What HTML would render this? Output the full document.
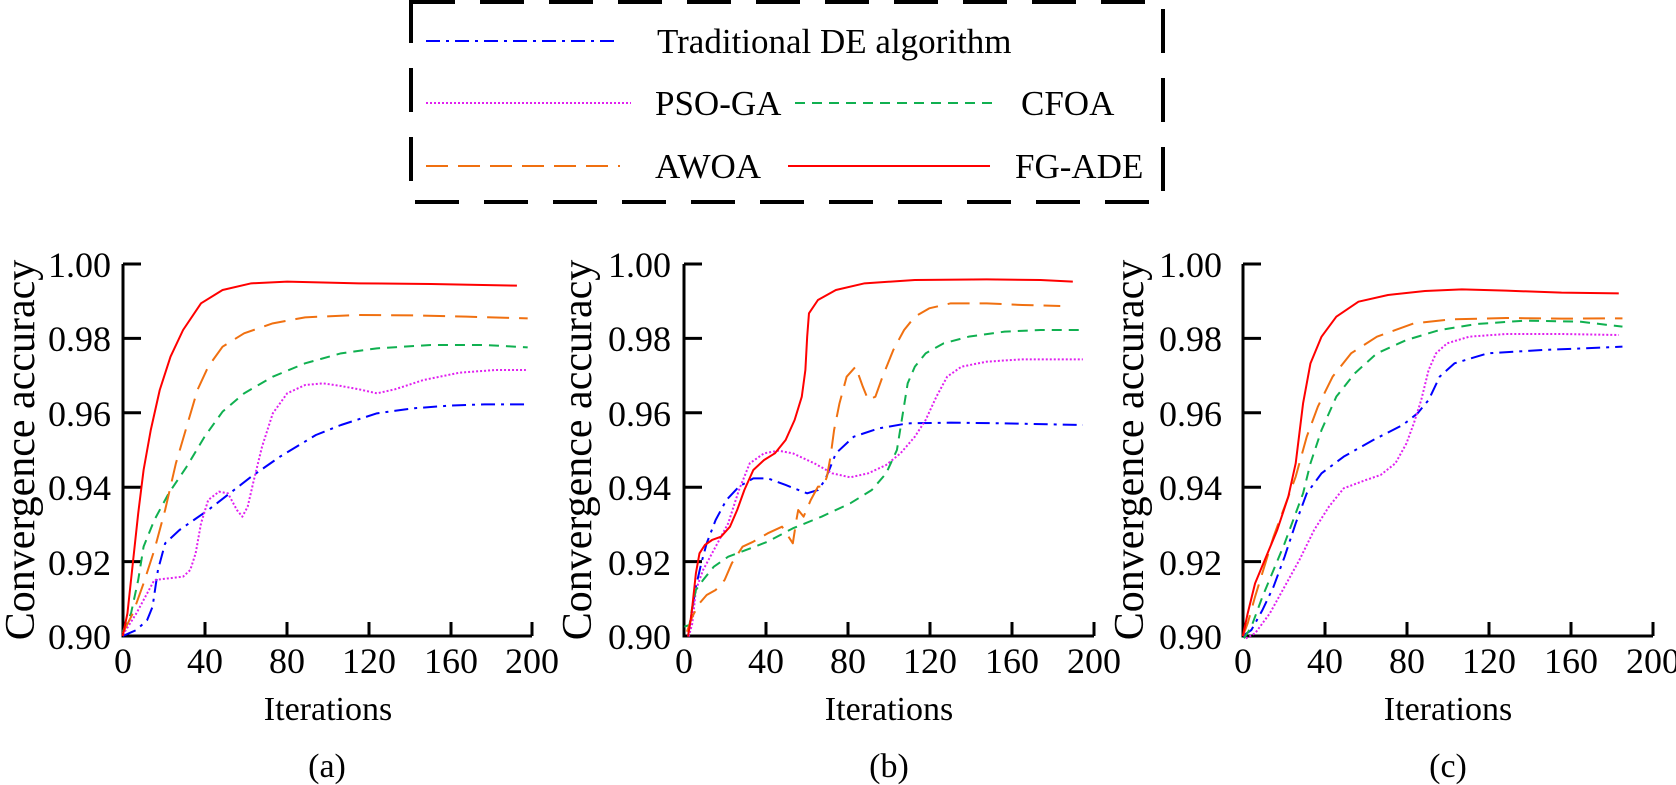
<!DOCTYPE html>
<html><head><meta charset="utf-8"><style>
html,body{margin:0;padding:0;background:#fff;}
svg{display:block;}
svg text{font-family:"Liberation Serif","Times New Roman","DejaVu Serif",serif;fill:#000;}
</style></head><body>
<svg width="1676" height="785" viewBox="0 0 1676 785" xmlns="http://www.w3.org/2000/svg">
<defs>
<style>
.s{fill:none;stroke-width:2;vector-effect:non-scaling-stroke;stroke-linejoin:round}
.bl{stroke:#0000ff;stroke-dasharray:14,6,3,6}
.mg{stroke:#e020f0;stroke-dasharray:2,2}
.gr{stroke:#10b050;stroke-dasharray:10,7}
.or{stroke:#f07010;stroke-dasharray:22,10}
.rd{stroke:#ff0000}
.ax{stroke:#000;stroke-width:3;fill:none}
</style>
</defs>
<rect x="411" y="2" width="752" height="200" fill="none" stroke="#000" stroke-width="4" stroke-dasharray="44,25"/>
<g font-size="35" font-family="Liberation Serif, Times New Roman, DejaVu Serif, serif">
<line x1="426" y1="41" x2="620" y2="41" class="s bl"/>
<text x="657" y="53">Traditional DE algorithm</text>
<line x1="426" y1="103" x2="631" y2="103" class="s mg"/>
<text x="655" y="115">PSO-GA</text>
<line x1="795" y1="103" x2="996" y2="103" class="s gr"/>
<text x="1021" y="115">CFOA</text>
<line x1="426" y1="166" x2="620" y2="166" class="s or"/>
<text x="655" y="178">AWOA</text>
<line x1="788" y1="166" x2="990" y2="166" class="s rd"/>
<text x="1015" y="178">FG-ADE</text>
</g>

<g class="ax">
<path d="M123,264 V636 H532"/>
<path d="M123,264 h18 M123,338.4 h18 M123,412.8 h18 M123,487.2 h18 M123,561.6 h18"/>
<path d="M205,636 v-14 M287,636 v-14 M369,636 v-14 M451,636 v-14 M532,636 v-14"/>
<path d="M684,264 V636 H1094"/>
<path d="M684,264 h18 M684,338.4 h18 M684,412.8 h18 M684,487.2 h18 M684,561.6 h18"/>
<path d="M766,636 v-14 M848,636 v-14 M930,636 v-14 M1012,636 v-14 M1094,636 v-14"/>
<path d="M1243,264 V636 H1653"/>
<path d="M1243,264 h18 M1243,338.4 h18 M1243,412.8 h18 M1243,487.2 h18 M1243,561.6 h18"/>
<path d="M1325,636 v-14 M1407,636 v-14 M1489,636 v-14 M1571,636 v-14 M1653,636 v-14"/>
</g>

<g font-size="34" font-family="Liberation Serif, Times New Roman, DejaVu Serif, serif">
<g text-anchor="end" font-size="36">
<text x="111" y="277">1.00</text><text x="111" y="351">0.98</text><text x="111" y="426">0.96</text><text x="111" y="500">0.94</text><text x="111" y="575">0.92</text><text x="111" y="649">0.90</text>
<text x="671" y="277">1.00</text><text x="671" y="351">0.98</text><text x="671" y="426">0.96</text><text x="671" y="500">0.94</text><text x="671" y="575">0.92</text><text x="671" y="649">0.90</text>
<text x="1222" y="277">1.00</text><text x="1222" y="351">0.98</text><text x="1222" y="426">0.96</text><text x="1222" y="500">0.94</text><text x="1222" y="575">0.92</text><text x="1222" y="649">0.90</text>
</g>
<g text-anchor="middle">
<g font-size="36">
<text x="123" y="673">0</text><text x="205" y="673">40</text><text x="287" y="673">80</text><text x="369" y="673">120</text><text x="451" y="673">160</text><text x="532" y="673">200</text>
<text x="684" y="673">0</text><text x="766" y="673">40</text><text x="848" y="673">80</text><text x="930" y="673">120</text><text x="1012" y="673">160</text><text x="1094" y="673">200</text>
<text x="1243" y="673">0</text><text x="1325" y="673">40</text><text x="1407" y="673">80</text><text x="1489" y="673">120</text><text x="1571" y="673">160</text><text x="1653" y="673">200</text>
</g>
<text x="328" y="720">Iterations</text><text x="889" y="720">Iterations</text><text x="1448" y="720">Iterations</text>
<text x="327" y="777">(a)</text><text x="889" y="777">(b)</text><text x="1448" y="777">(c)</text>
<g font-size="42">
<text transform="translate(34,450) rotate(-90)">Convergence accuracy</text>
<text transform="translate(591,450) rotate(-90)">Convergence accuracy</text>
<text transform="translate(1143,450) rotate(-90)">Convergence accuracy</text>
</g>
</g>
</g>

<g transform="translate(0,230) scale(0.35897,0.33333)">
<polyline class="s bl" points="342,1218 380,1200 410,1170 425,1130 440,1020 460,940 500,900 540,870 580,840 640,790 700,740 780,680 880,615 950,585 1050,550 1150,535 1250,527 1350,523 1475,523"/>
<polyline class="s mg" points="342,1215 380,1150 410,1090 430,1050 470,1045 510,1040 530,1020 545,970 560,880 580,810 610,785 635,790 660,840 675,860 690,830 705,760 730,650 760,550 800,490 850,465 900,460 950,468 1000,478 1050,490 1100,478 1180,450 1280,428 1380,420 1465,420"/>
<polyline class="s gr" points="342,1205 365,1150 385,1050 400,950 430,870 470,790 520,710 570,620 620,545 680,490 760,440 850,400 950,370 1050,355 1200,345 1350,345 1470,352"/>
<polyline class="s or" points="342,1210 370,1150 400,1060 430,960 460,840 490,700 520,590 550,480 580,410 620,350 680,310 760,280 850,262 1000,255 1150,256 1300,260 1470,265"/>
<polyline class="s rd" points="342,1218 355,1150 370,1000 385,850 400,720 420,600 445,480 475,380 510,300 560,220 620,180 700,160 800,155 1000,160 1200,162 1440,167"/>
</g>
<g transform="translate(520,230) scale(0.35897,0.33333)">
<polyline class="s bl" points="468,1220 478,1150 490,1070 505,1000 520,940 545,870 575,810 610,770 650,745 690,745 740,765 800,790 830,780 850,750 880,670 930,620 1000,595 1080,580 1200,578 1350,580 1568,585"/>
<polyline class="s mg" points="470,1220 480,1180 490,1080 510,1020 540,960 580,880 610,780 640,700 680,670 720,662 760,670 820,700 870,730 920,742 970,730 1020,705 1060,670 1100,620 1130,570 1160,500 1190,440 1230,410 1300,395 1400,388 1568,388"/>
<polyline class="s gr" points="458,1190 472,1185 480,1130 490,1080 510,1050 540,1010 580,980 630,960 690,935 760,895 840,860 920,820 980,780 1020,730 1050,660 1065,560 1080,460 1100,410 1130,370 1180,340 1250,320 1350,305 1450,300 1568,300"/>
<polyline class="s or" points="465,1205 480,1160 500,1120 520,1095 545,1080 570,1050 590,1000 620,950 650,935 690,910 730,890 760,940 770,870 775,840 790,860 810,810 830,770 845,770 855,740 865,680 875,600 890,520 910,440 935,410 955,470 970,510 990,500 1010,440 1040,360 1070,300 1100,260 1140,235 1200,220 1300,220 1400,225 1505,228"/>
<polyline class="s rd" points="468,1220 478,1150 490,1030 500,970 515,945 535,930 560,920 585,890 605,840 625,780 650,720 680,690 710,670 740,630 765,570 785,500 795,420 800,320 805,250 830,210 880,180 960,160 1100,150 1300,148 1450,150 1540,155"/>
</g>
<g transform="translate(1100,230) scale(0.36923,0.33333)">
<polyline class="s bl" points="387,1218 410,1200 440,1140 470,1070 500,980 530,880 560,790 600,730 660,680 740,630 820,585 860,550 890,510 920,440 960,400 1050,370 1200,360 1415,350"/>
<polyline class="s mg" points="395,1225 420,1210 460,1150 500,1070 540,990 580,900 620,830 660,775 720,750 760,735 800,700 830,640 850,580 870,510 890,420 910,370 940,340 1000,320 1100,312 1250,312 1405,315"/>
<polyline class="s gr" points="390,1225 410,1190 440,1100 470,1020 500,940 530,850 550,790 570,700 600,600 640,500 690,430 750,370 830,330 920,300 1020,282 1150,272 1300,275 1415,290"/>
<polyline class="s or" points="387,1218 400,1180 420,1100 445,1010 470,920 500,830 530,740 560,620 590,530 630,440 680,370 750,320 850,280 950,268 1100,264 1250,266 1415,265"/>
<polyline class="s rd" points="387,1218 400,1150 420,1060 450,980 480,900 510,800 530,700 550,520 570,400 600,320 640,260 700,215 780,195 880,183 980,178 1100,182 1250,188 1405,190"/>
</g>
</svg>
</body></html>
